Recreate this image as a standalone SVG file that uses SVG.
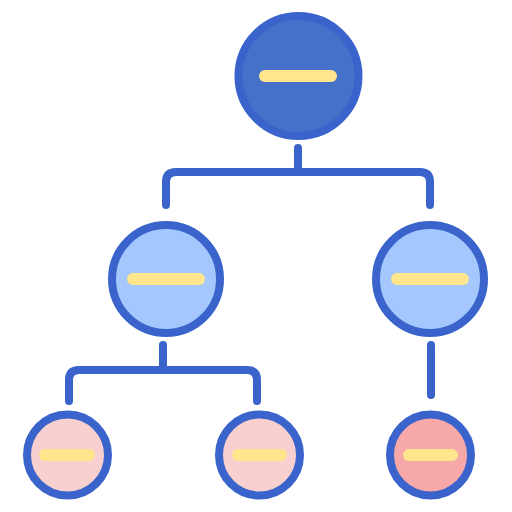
<svg xmlns="http://www.w3.org/2000/svg" width="512" height="512" viewBox="0 0 512 512">
<style>
.c{stroke:#3A64CC;stroke-width:8}
.bar{stroke:#FFE68C;stroke-width:12;stroke-linecap:round;fill:none}
.ln{stroke:#3A64CC;stroke-width:8;stroke-linecap:round;stroke-linejoin:round;fill:none}
</style>
<g id="connectors">
<path class="ln" d="M298 148V172M166 205V182Q166 172 176 172H420Q430 172 430 182V205"/>
<path class="ln" d="M163 345V370M69 401V380Q69 370 79 370H247Q257 370 257 380V401"/>
<path class="ln" d="M431 345V395"/>
</g>
<g id="root"><circle class="c" cx="298.5" cy="76" r="60" fill="#4671C8"/><line class="bar" x1="265" y1="76" x2="331" y2="76"/></g>
<g id="mid-left"><circle class="c" cx="166" cy="279" r="54" fill="#A4C8FE"/><line class="bar" x1="133" y1="279" x2="199" y2="279"/></g>
<g id="mid-right"><circle class="c" cx="430" cy="279" r="54" fill="#A4C8FE"/><line class="bar" x1="397" y1="279" x2="463" y2="279"/></g>
<g id="leaf-1"><circle class="c" cx="67.5" cy="455" r="40.5" fill="#F8D0D0"/><line class="bar" x1="45" y1="455" x2="89" y2="455"/></g>
<g id="leaf-2"><circle class="c" cx="259.5" cy="455" r="40.5" fill="#F8D0D0"/><line class="bar" x1="238" y1="455" x2="281" y2="455"/></g>
<g id="leaf-3"><circle class="c" cx="430.5" cy="455" r="40.5" fill="#F7A8A8"/><line class="bar" x1="409" y1="455" x2="452" y2="455"/></g>
</svg>
